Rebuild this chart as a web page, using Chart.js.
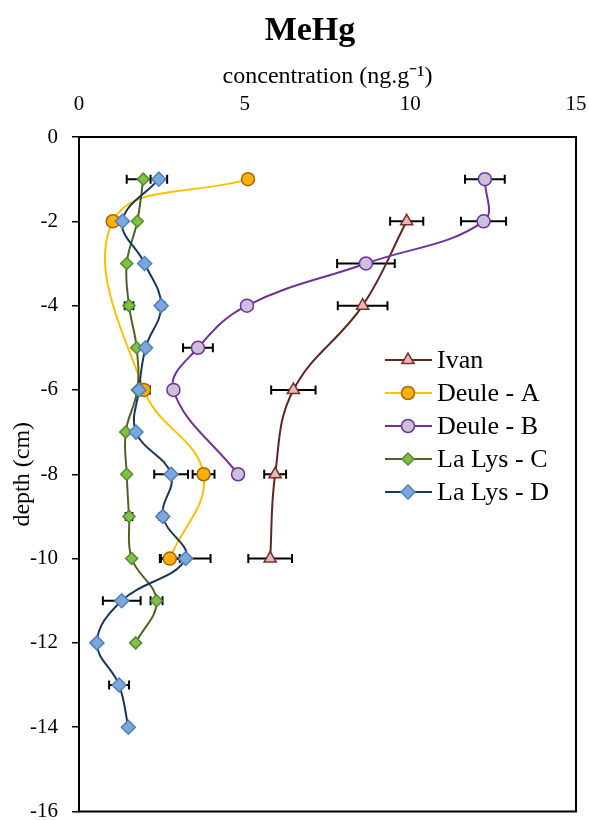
<!DOCTYPE html>
<html lang="en">
<head>
    <meta charset="UTF-8">
    <title>MeHg depth profile</title>
    <style>
        body { margin: 0; background: #fff; }
        #myChart { width: 589px !important; height: 820px !important; display: block; }
    </style>
    <script src="https://cdn.jsdelivr.net/npm/chart.js"></script>
</head>
<body>
    <canvas id="myChart" width="589" height="820"></canvas>
    <script>
        // series names (legend order)
        const seriesNames = ['Ivan', 'Deule - A', 'Deule - B', 'La Lys - C', 'La Lys - D'];

        // depth (cm), concentration (ng/g) and +/- error for each series
        const ivanDepth = [-2, -4, -6, -8, -10];
        const ivanConc  = [9.89, 8.56, 6.47, 5.92, 5.77];
        const ivanErr   = [0.5, 0.75, 0.67, 0.33, 0.66];

        const deuleADepth = [-1, -2, -6, -8, -10];
        const deuleAConc  = [5.1, 1.02, 1.96, 3.76, 2.74];
        const deuleAErr   = [0, 0.15, 0.18, 0.33, 0.3];

        const deuleBDepth = [-1, -2, -3, -4, -5, -6, -8];
        const deuleBConc  = [12.25, 12.21, 8.66, 5.07, 3.59, 2.85, 4.8];
        const deuleBErr   = [0.6, 0.68, 0.87, 0, 0.45, 0, 0];

        const lysCDepth = [-1, -2, -3, -4, -5, -6, -7, -8, -9, -10, -11, -12];
        const lysCConc  = [1.94, 1.76, 1.44, 1.51, 1.74, 1.76, 1.41, 1.44, 1.51, 1.59, 2.34, 1.71];
        const lysCErr   = [0.5, 0, 0, 0.13, 0, 0, 0, 0, 0.1, 0, 0.18, 0];

        const lysDDepth = [-1, -2, -3, -4, -5, -6, -7, -8, -9, -10, -11, -12, -13, -14];
        const lysDConc  = [2.41, 1.31, 1.98, 2.48, 2.01, 1.81, 1.72, 2.78, 2.53, 3.22, 1.29, 0.54, 1.21, 1.49];
        const lysDErr   = [0.25, 0, 0, 0.1, 0, 0, 0, 0.51, 0.1, 0.75, 0.57, 0, 0.3, 0.08];

        const xTicks = [0, 5, 10, 15];
        const yTicks = [0, -2, -4, -6, -8, -10, -12, -14, -16];

        const serif = "'Liberation Serif', 'Times New Roman', serif";

        const styles = [
            { line: '#632523', fill: '#E6B9B8', edge: '#7A2E2C', shape: 'triangle', r: 7 },
            { line: '#FFC000', fill: '#FFB000', edge: '#A8620A', shape: 'circle', r: 6.5 },
            { line: '#7030A0', fill: '#CCC0DA', edge: '#7030A0', shape: 'circle', r: 6.5 },
            { line: '#4F6228', fill: '#7DC243', edge: '#5A8A30', shape: 'rectRot', r: 6 },
            { line: '#17375E', fill: '#7BA7DC', edge: '#4F81BD', shape: 'rectRot', r: 7 }
        ];

        const depths = [ivanDepth, deuleADepth, deuleBDepth, lysCDepth, lysDDepth];
        const concs  = [ivanConc, deuleAConc, deuleBConc, lysCConc, lysDConc];
        const errs   = [ivanErr, deuleAErr, deuleBErr, lysCErr, lysDErr];

        const datasets = seriesNames.map(function(name, i) {
            return {
                label: name,
                data: depths[i].map((d, j) => ({ x: concs[i][j], y: d })),
                errors: errs[i],
                showLine: true,
                tension: 0.4,
                borderColor: styles[i].line,
                borderWidth: 2,
                pointStyle: styles[i].shape,
                pointRadius: styles[i].r,
                pointBackgroundColor: styles[i].fill,
                pointBorderColor: styles[i].edge,
                pointBorderWidth: 1.5,
                order: seriesNames.length - 1 - i
            };
        });

        // horizontal error bars with caps
        const errorBars = {
            id: 'errorBars',
            beforeDatasetsDraw(chart) {
                const ctx = chart.ctx;
                const xs = chart.scales.x, ys = chart.scales.y;
                ctx.save();
                ctx.strokeStyle = '#000';
                ctx.lineWidth = 2;
                chart.data.datasets.forEach(function(ds) {
                    ds.data.forEach(function(p, j) {
                        const e = ds.errors[j];
                        if (!e) return;
                        const y = ys.getPixelForValue(p.y);
                        const x1 = xs.getPixelForValue(p.x - e);
                        const x2 = xs.getPixelForValue(p.x + e);
                        ctx.beginPath();
                        ctx.moveTo(x1, y); ctx.lineTo(x2, y);
                        ctx.moveTo(x1, y - 4.5); ctx.lineTo(x1, y + 4.5);
                        ctx.moveTo(x2, y - 4.5); ctx.lineTo(x2, y + 4.5);
                        ctx.stroke();
                    });
                });
                ctx.restore();
            }
        };

        // frame, title and the in-plot legend
        const decorations = {
            id: 'decorations',
            afterDraw(chart) {
                const ctx = chart.ctx;
                const a = chart.chartArea;
                ctx.save();
                ctx.strokeStyle = '#000';
                ctx.lineWidth = 2;
                ctx.strokeRect(a.left, a.top, a.right - a.left, a.bottom - a.top);

                ctx.fillStyle = '#000';
                ctx.font = 'bold 34px ' + serif;
                ctx.textAlign = 'center';
                ctx.textBaseline = 'middle';
                ctx.fillText('MeHg', 310, 31);

                ctx.font = '26px ' + serif;
                ctx.textAlign = 'left';
                seriesNames.forEach(function(name, i) {
                    const y = 360 + i * 33;
                    const s = styles[i];
                    ctx.strokeStyle = s.line;
                    ctx.lineWidth = 2;
                    ctx.beginPath();
                    ctx.moveTo(385, y); ctx.lineTo(432, y);
                    ctx.stroke();
                    ctx.fillStyle = s.fill;
                    ctx.strokeStyle = s.edge;
                    ctx.lineWidth = 1.5;
                    Chart.helpers.drawPoint(ctx, { pointStyle: s.shape, radius: s.r, borderWidth: 1.5 }, 408, y);
                    ctx.fillStyle = '#000';
                    ctx.fillText(name, 437, y + 1);
                });
                ctx.restore();
            }
        };

        function noScalePadding(scale) {
            scale.paddingLeft = 0;
            scale.paddingRight = 0;
            scale.paddingTop = 0;
            scale.paddingBottom = 0;
        }

        var ctx = document.getElementById('myChart').getContext('2d');
        var myChart = new Chart(ctx, {
            type: 'scatter',
            data: { datasets: datasets },
            plugins: [errorBars, decorations],
            options: {
                responsive: false,
                animation: false,
                layout: { padding: { left: 0, right: 13, top: 0, bottom: 8 } },
                scales: {
                    x: {
                        type: 'linear',
                        position: 'top',
                        min: 0,
                        max: 15,
                        afterBuildTicks: function(scale) {
                            scale.ticks = xTicks.map(v => ({ value: v }));
                        },
                        afterFit: function(scale) { scale.height = 137; noScalePadding(scale); },
                        grid: { display: false, drawTicks: false },
                        border: { display: false },
                        ticks: {
                            color: '#000',
                            padding: 20,
                            font: { family: serif, size: 21 },
                            callback: v => String(v)
                        },
                        title: {
                            display: true,
                            text: 'concentration (ng.g\u207B\u00B9)',
                            color: '#000',
                            font: { family: serif, size: 24 },
                            padding: { top: 62, bottom: 0 }
                        }
                    },
                    y: {
                        type: 'linear',
                        min: -16,
                        max: 0,
                        afterBuildTicks: function(scale) {
                            scale.ticks = yTicks.map(v => ({ value: v }));
                        },
                        afterFit: function(scale) { scale.width = 79; noScalePadding(scale); },
                        grid: {
                            display: true,
                            drawOnChartArea: false,
                            drawTicks: true,
                            tickLength: 7,
                            color: '#000',
                            lineWidth: 1.5
                        },
                        border: { display: false },
                        ticks: {
                            color: '#000',
                            padding: 14,
                            font: { family: serif, size: 21 },
                            callback: v => String(v)
                        },
                        title: {
                            display: true,
                            text: 'depth (cm)',
                            color: '#000',
                            font: { family: serif, size: 24 },
                            padding: { top: 8, bottom: 0 }
                        }
                    }
                },
                plugins: {
                    legend: { display: false },
                    tooltip: { enabled: false },
                    title: { display: false }
                }
            }
        });
    </script>
</body>
</html>
